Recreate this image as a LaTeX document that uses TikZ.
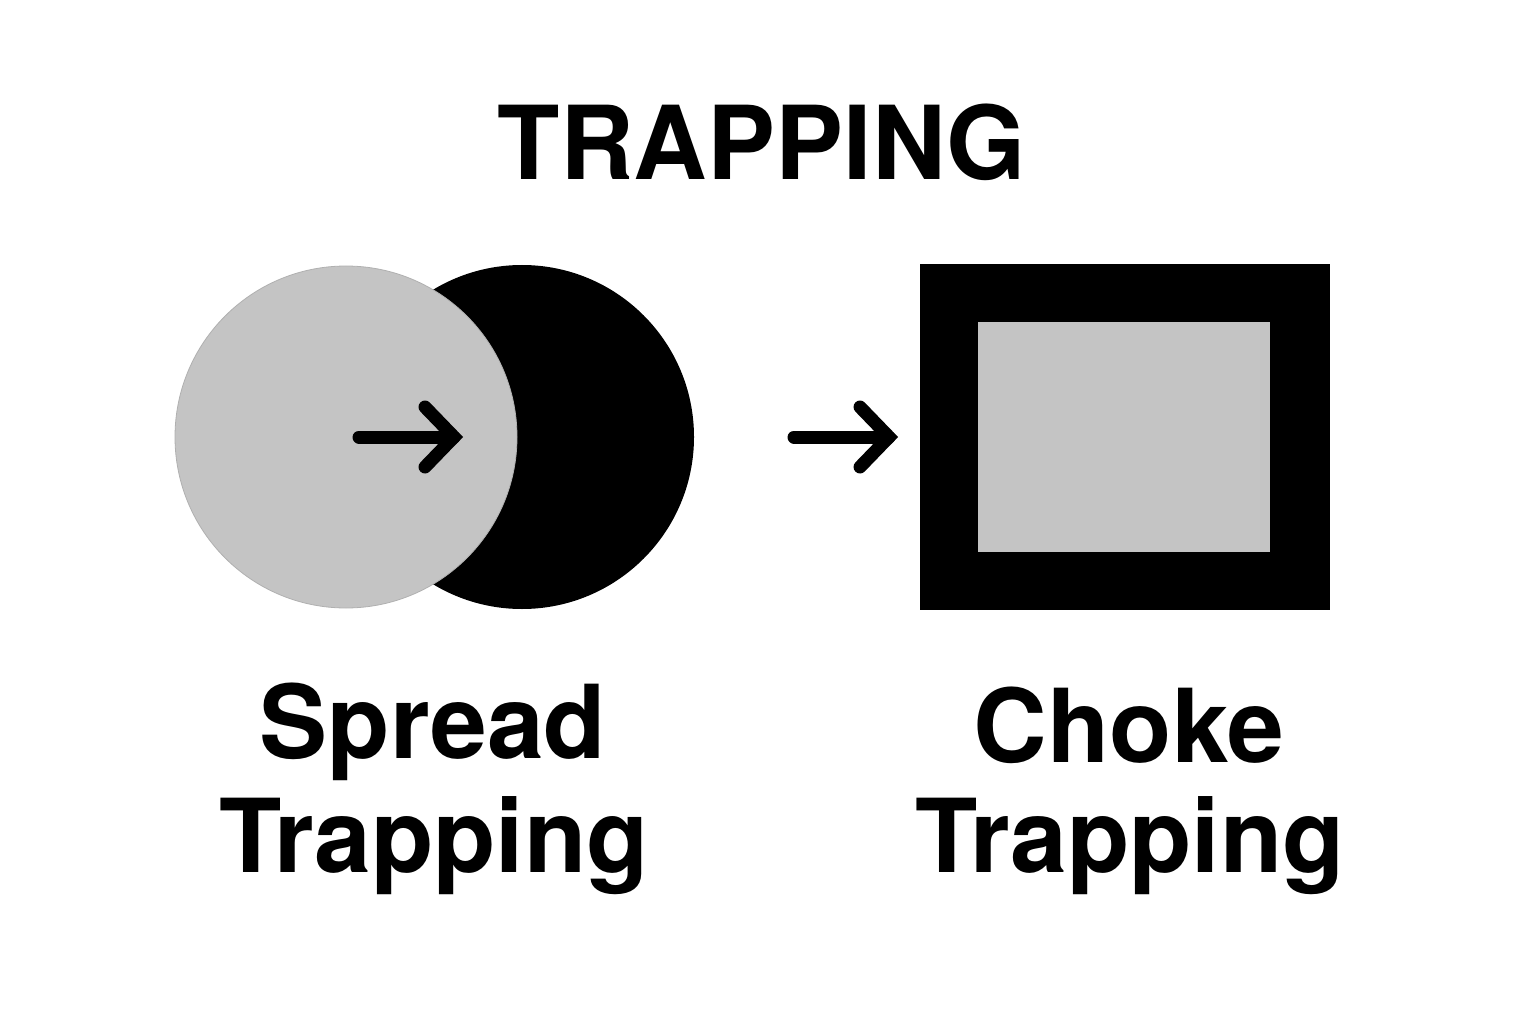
\documentclass[tikz,border=0pt]{standalone}
\usepackage{fontspec}
\setmainfont{TeX Gyre Heros}
\definecolor{lightfill}{HTML}{C4C4C4}
\definecolor{lightedge}{HTML}{B0B0B0}
\begin{document}
\begin{tikzpicture}[x=1pt,y=-1pt,
  bigtext/.style={font=\fontsize{102}{114}\selectfont\bfseries, inner sep=0pt, anchor=base},
  arrowline/.style={line width=13pt, line cap=round, line join=miter, black}]
\useasboundingbox[fill=white] (0,0) rectangle (1536,1024);
% title
\node[bigtext] (title) at (762,180) {TRAPPING};
% spread trapping circles
\fill[black] (522,437) circle[radius=172];
\filldraw[fill=lightfill, draw=lightedge, line width=0.8pt] (346,437) circle[radius=171];
\coordinate (a1s) at (359,437);
\coordinate (a1t) at (454,437);
\draw[arrowline] (a1s) -- (a1t);
\draw[arrowline] (425,407) -- (a1t) -- (425,467);
% middle arrow
\coordinate (a2s) at (794,437);
\coordinate (a2t) at (889,437);
\draw[arrowline] (a2s) -- (a2t);
\draw[arrowline] (860,407) -- (a2t) -- (860,467);
% choke trapping rectangle
\fill[black] (920,264) rectangle (1330,610);
\fill[lightfill] (978,322) rectangle (1270,552);
% labels
\node[bigtext] (sp1) at (433,758) {Spread};
\node[bigtext] (sp2) at (434,872) {Trapping};
\node[bigtext] (ch1) at (1129,762) {Choke};
\node[bigtext] (ch2) at (1130,872) {Trapping};
\end{tikzpicture}
\end{document}
